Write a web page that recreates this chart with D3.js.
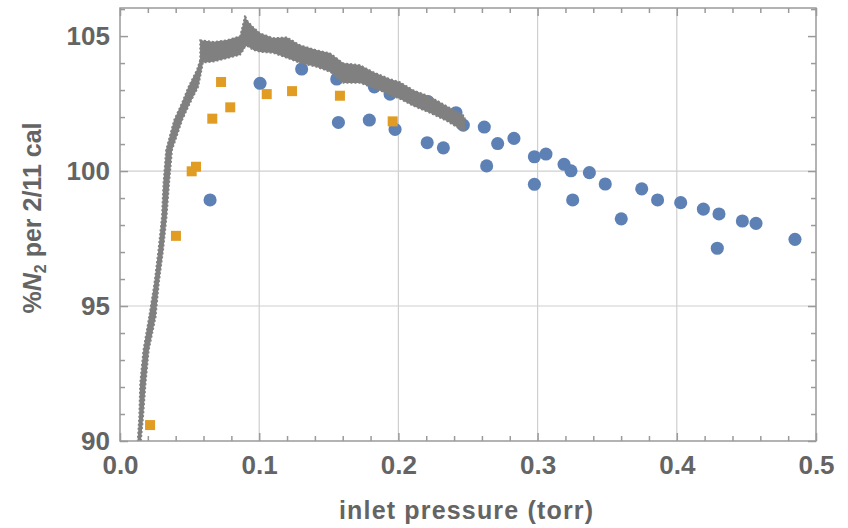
<!DOCTYPE html>
<html>
<head>
<meta charset="utf-8">
<script src="https://cdn.jsdelivr.net/npm/d3@7"></script>
<style>
  body { margin: 0; background: #fff; }
  text { font-family: "Liberation Sans", Arial, sans-serif; font-weight: bold; fill: #646464; }
</style>
</head>
<body>
<script>
// Chart size and plot frame
const width = 848;
const height = 528;
const margin = { top: 8, right: 32, bottom: 87, left: 120 };

// Gray calibration cloud, rising part (by %N2: left and right edge in torr)
const riseY   = [90.0, 90.9, 92.14, 93.37, 94.6, 95.84, 97.07, 98.31, 99.54, 100.78, 101.89, 102.51, 103.12, 103.74, 104.11];
const riseXLo = [0.0126, 0.0137, 0.0144, 0.0167, 0.0208, 0.0246, 0.0275, 0.03, 0.0311, 0.033, 0.0388, 0.0443, 0.0491, 0.0551, 0.0575];
const riseXHi = [0.0151, 0.0167, 0.0185, 0.0208, 0.0257, 0.028, 0.0311, 0.0336, 0.0354, 0.0375, 0.0448, 0.0503, 0.0563, 0.0587, 0.06];

// Gray cloud, plateau and decline (by torr: low and high edge in %N2)
const bandX  = [0.0575, 0.067, 0.0767, 0.0862, 0.0887, 0.0898, 0.0912, 0.0958, 0.1006, 0.1101, 0.1198, 0.1293, 0.1413, 0.1509, 0.1604, 0.1724, 0.182, 0.194, 0.2011, 0.2107, 0.2227, 0.2347, 0.2466, 0.2478];
const bandLo = [104.0, 104.05, 104.17, 104.3, 104.48, 104.59, 104.63, 104.48, 104.41, 104.37, 104.19, 104.0, 103.85, 103.67, 103.26, 103.26, 103.08, 102.82, 102.67, 102.41, 102.15, 101.85, 101.48, 101.52];
const bandHi = [104.85, 104.79, 104.85, 105.0, 105.52, 105.78, 105.59, 105.33, 105.11, 104.93, 104.96, 104.67, 104.48, 104.37, 104.0, 103.93, 103.67, 103.41, 103.3, 103.0, 102.76, 102.41, 102.07, 101.96];

// Orange squares
const orangeX = [0.0216, 0.0402, 0.0515, 0.0546, 0.0663, 0.0726, 0.0792, 0.1054, 0.1236, 0.158, 0.1959];
const orangeY = [90.59, 97.6, 99.99, 100.16, 101.94, 103.3, 102.36, 102.85, 102.96, 102.79, 101.84];

// Blue points
const blueX = [0.0647, 0.1006, 0.1305, 0.1557, 0.1569, 0.1791, 0.1827, 0.194, 0.1976, 0.2207, 0.2213, 0.2323, 0.2414, 0.2466,
  0.2617, 0.2634, 0.2713, 0.283, 0.2977, 0.2977, 0.306, 0.319, 0.324, 0.3252, 0.3372, 0.3486, 0.3601, 0.3748,
  0.3862, 0.4028, 0.4191, 0.4291, 0.4303, 0.4471, 0.4569, 0.4849];
const blueY = [98.93, 103.25, 103.78, 103.41, 101.8, 101.89, 103.12, 102.85, 101.54, 101.05, 102.57, 100.86, 102.16, 101.7,
  101.63, 100.19, 101.02, 101.21, 100.53, 99.51, 100.63, 100.25, 100.01, 98.93, 99.94, 99.52, 98.23, 99.34,
  98.93, 98.83, 98.59, 97.14, 98.41, 98.15, 98.06, 97.47];

// Axes
const xMajor = [0, 0.1, 0.2, 0.3, 0.4, 0.5];
const xMinor = [0.02, 0.04, 0.06, 0.08, 0.12, 0.14, 0.16, 0.18, 0.22, 0.24, 0.26, 0.28, 0.32, 0.34, 0.36, 0.38, 0.42, 0.44, 0.46, 0.48];
const yMajor = [90, 95, 100, 105];
const yMinor = [91, 92, 93, 94, 96, 97, 98, 99, 101, 102, 103, 104, 106];
const xGrid = [0.1, 0.2, 0.3, 0.4];
const yGrid = [95, 100];

const svg = d3.select("body")
  .append("svg")
  .attr("width", width)
  .attr("height", height);

const x = d3.scaleLinear()
  .domain([0, 0.5])
  .range([margin.left, width - margin.right]);

const y = d3.scaleLinear()
  .domain([90, 106.04])
  .range([height - margin.bottom, margin.top]);

const x0 = margin.left, x1 = width - margin.right;
const y0 = height - margin.bottom, y1 = margin.top;

svg.append("clipPath")
  .attr("id", "plot")
  .append("rect")
  .attr("x", x0).attr("y", y1)
  .attr("width", x1 - x0).attr("height", y0 - y1);

// Grid lines
svg.append("g").selectAll("line")
  .data(xGrid).join("line")
  .attr("x1", d => x(d)).attr("x2", d => x(d))
  .attr("y1", y1).attr("y2", y0)
  .attr("stroke", "#cfcfcf").attr("stroke-width", 1.2);

svg.append("g").selectAll("line")
  .data(yGrid).join("line")
  .attr("y1", d => y(d)).attr("y2", d => y(d))
  .attr("x1", x0).attr("x2", x1)
  .attr("stroke", "#cfcfcf").attr("stroke-width", 1.2);

// Blue points (under the cloud)
svg.append("g").selectAll("path")
  .data(blueX.map((v, i) => [v, blueY[i]]))
  .join("path")
  .attr("transform", d => `translate(${x(d[0])},${y(d[1])})`)
  .attr("d", d3.symbol(d3.symbolCircle, 135))
  .attr("fill", "#5e81b5");

// Gray cloud
const cloud = svg.append("g").attr("clip-path", "url(#plot)");
const rise = riseY.map((v, i) => ({ y: v, lo: riseXLo[i], hi: riseXHi[i] }));
const band = bandX.map((v, i) => ({ x: v, lo: bandLo[i], hi: bandHi[i] }));

cloud.append("path")
  .datum(rise)
  .attr("d", d3.area().y(d => y(d.y)).x0(d => x(d.lo)).x1(d => x(d.hi)))
  .attr("fill", "#808080")
  .attr("stroke", "#808080").attr("stroke-width", 1.5)
  .attr("stroke-dasharray", "2 2");

cloud.append("path")
  .datum(band)
  .attr("d", d3.area().x(d => x(d.x)).y0(d => y(d.lo)).y1(d => y(d.hi)))
  .attr("fill", "#808080")
  .attr("stroke", "#808080").attr("stroke-width", 1.5)
  .attr("stroke-dasharray", "2 2");

// Orange squares
svg.append("g").selectAll("rect")
  .data(orangeX.map((v, i) => [v, orangeY[i]]))
  .join("rect")
  .attr("x", d => x(d[0]) - 5)
  .attr("y", d => y(d[1]) - 5)
  .attr("width", 10).attr("height", 10)
  .attr("fill", "#e19c24");

// Frame
svg.append("rect")
  .attr("x", x0).attr("y", y1)
  .attr("width", x1 - x0).attr("height", y0 - y1)
  .attr("fill", "none").attr("stroke", "#9a9a9a").attr("stroke-width", 1.5);

function tickAxis(axis, tx, ty) {
  const g = svg.append("g")
    .attr("transform", `translate(${tx},${ty})`)
    .call(axis);
  g.select(".domain").remove();
  g.selectAll("line").attr("stroke", "#9a9a9a").attr("stroke-width", 1.5);
  g.selectAll("text").attr("font-size", 26).attr("fill", "#646464").attr("font-family", null);
  return g;
}

// Bottom and top ticks
tickAxis(d3.axisBottom(x).tickValues(xMajor).tickSize(-8).tickPadding(15).tickFormat(d3.format(".1f")), 0, y0);
tickAxis(d3.axisBottom(x).tickValues(xMinor).tickSize(-5).tickFormat(""), 0, y0);
tickAxis(d3.axisTop(x).tickValues(xMajor).tickSize(-8).tickFormat(""), 0, y1);
tickAxis(d3.axisTop(x).tickValues(xMinor).tickSize(-5).tickFormat(""), 0, y1);

// Left and right ticks
tickAxis(d3.axisLeft(y).tickValues(yMajor).tickSize(-8).tickPadding(10), x0, 0);
tickAxis(d3.axisLeft(y).tickValues(yMinor).tickSize(-5).tickFormat(""), x0, 0);
tickAxis(d3.axisRight(y).tickValues(yMajor).tickSize(-8).tickFormat(""), x1, 0);
tickAxis(d3.axisRight(y).tickValues(yMinor).tickSize(-5).tickFormat(""), x1, 0);

// Axis labels
svg.append("text")
  .attr("x", 466)
  .attr("y", 519)
  .attr("text-anchor", "middle")
  .attr("font-size", 25)
  .attr("textLength", 254)
  .attr("lengthAdjust", "spacing")
  .text("inlet pressure (torr)");

const ylab = svg.append("text")
  .attr("transform", "translate(41,218) rotate(-90)")
  .attr("text-anchor", "middle")
  .attr("font-size", 25);
ylab.append("tspan").text("%");
ylab.append("tspan").attr("font-style", "italic").text("N");
ylab.append("tspan").attr("font-size", 16).attr("dy", 5).text("2");
ylab.append("tspan").attr("dy", -5).text(" per 2/11 cal");
</script>
</body>
</html>
